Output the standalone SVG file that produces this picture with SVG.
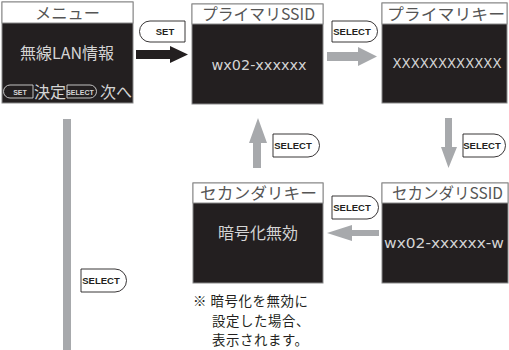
<svg xmlns="http://www.w3.org/2000/svg" width="509" height="350" viewBox="0 0 509 350">
<style>
.frame{fill:#231f20;stroke:#888;stroke-width:1}
.tbar{fill:#fff;stroke:#888;stroke-width:1}
.title{font-family:"Noto Sans CJK JP","DejaVu Sans",sans-serif;font-size:16px;fill:#555;text-anchor:middle}
.body{font-family:"Noto Sans CJK JP","DejaVu Sans Condensed",sans-serif;font-size:16px;fill:#d4d4d4;text-anchor:middle}
.mono{font-family:"DejaVu Sans Condensed","Noto Sans",sans-serif;font-size:14px;fill:#d4d4d4;text-anchor:middle}
.gray{fill:#a7a9ac}
.btn{fill:#fff;stroke:#231f20;stroke-width:0.9}
.btxt{font-family:"Liberation Sans",Arial,sans-serif;font-weight:bold;font-size:9.5px;fill:#231f20;text-anchor:middle}
.note{font-family:"Noto Sans CJK JP",sans-serif;font-size:13.4px;fill:#231f20;letter-spacing:0.6px}
.icon{fill:none;stroke:#d4d4d4;stroke-width:0.9}
.itxt{font-family:"Liberation Sans",Arial,sans-serif;font-weight:bold;font-size:7px;fill:#d4d4d4;text-anchor:middle}
</style>

<g id="menu">
<rect class="frame" x="2" y="2" width="131" height="101"/>
<rect class="tbar" x="2" y="2" width="131" height="21"/>
<text class="title" x="67.5" y="18.5" textLength="65" lengthAdjust="spacingAndGlyphs">メニュー</text>
<text class="body" x="67" y="59" font-size="17">無線LAN情報</text>
<path class="icon" d="M33,85 H10 A6.5,6.5 0 0 0 10,98 H33 Z"/>
<text class="itxt" x="20" y="94.5">SET</text>
<text class="body" x="50" y="98" font-size="15">決定</text>
<path class="icon" d="M67,85 H90 A6.5,6.5 0 0 1 90,98 H67 Z"/>
<text class="itxt" x="80" y="94.5" font-size="6">SELECT</text>
<text class="body" x="116" y="98" font-size="15">次へ</text>
</g>

<g id="primary-ssid">
<rect class="frame" x="192" y="4" width="131" height="100"/>
<rect class="tbar" x="192" y="4" width="131" height="20"/>
<text class="title" x="258.5" y="20" textLength="113" lengthAdjust="spacingAndGlyphs">プライマリSSID</text>
<text class="mono" x="259" y="70" textLength="95" lengthAdjust="spacingAndGlyphs">wx02-xxxxxx</text>
</g>

<g id="primary-key">
<rect class="frame" x="382" y="3" width="125" height="100"/>
<rect class="tbar" x="382" y="3" width="125" height="21"/>
<text class="title" x="446" y="19.5" textLength="118" lengthAdjust="spacingAndGlyphs">プライマリキー</text>
<text class="mono" x="447" y="68" textLength="109" lengthAdjust="spacingAndGlyphs">XXXXXXXXXXXX</text>
</g>

<g id="secondary-ssid">
<rect class="frame" x="382" y="183" width="126" height="100"/>
<rect class="tbar" x="382" y="183" width="126" height="20"/>
<text class="title" x="447.5" y="199" textLength="111" lengthAdjust="spacingAndGlyphs">セカンダリSSID</text>
<text class="mono" x="444" y="248" textLength="120" lengthAdjust="spacingAndGlyphs">wx02-xxxxxx-w</text>
</g>

<g id="secondary-key">
<rect class="frame" x="193" y="183" width="130" height="100"/>
<rect class="tbar" x="193" y="183" width="130" height="20"/>
<text class="title" x="258.5" y="199" textLength="117" lengthAdjust="spacingAndGlyphs">セカンダリキー</text>
<text class="body" x="258" y="239">暗号化無効</text>
</g>

<g id="note">
<text class="note" x="193" y="306">※ 暗号化を無効に</text>
<text class="note" x="212" y="325.5">設定した場合、</text>
<text class="note" x="212" y="345">表示されます。</text>
</g>

<g id="connectors">
<path fill="#231f20" d="M136,50 H170 V46 L188,54.5 L170,63 V59 H136 Z"/>
<path class="gray" d="M327,52 H358 V47 L377,56.5 L358,66 V61 H327 Z"/>
<path class="gray" d="M445,118 H452 V147 H457 L448.5,168 L441,147 H445 Z"/>
<path class="gray" d="M253,168 H261 V143 H267 L258,118 L249,143 H253 Z"/>
<path class="gray" d="M379,230 H352 V225 L327,233 L352,241 V236 H379 Z"/>
<rect class="gray" x="63" y="119" width="8" height="231"/>

<path class="btn" d="M185,21 H150 A10.5,10.5 0 0 0 150,42 H185 Z"/>
<text class="btxt" x="165" y="35">SET</text>
<path class="btn" d="M332,21 H367 A10.5,10.5 0 0 1 367,42 H332 Z"/>
<text class="btxt" x="352" y="35">SELECT</text>
<path class="btn" d="M463,134 H494 A11.5,11.5 0 0 1 494,157 H463 Z"/>
<text class="btxt" x="482" y="149">SELECT</text>
<path class="btn" d="M273,134 H308 A11.5,11.5 0 0 1 308,157 H273 Z"/>
<text class="btxt" x="293" y="149">SELECT</text>
<path class="btn" d="M332,196 H367 A11.5,11.5 0 0 1 367,219 H332 Z"/>
<text class="btxt" x="352" y="211">SELECT</text>
<path class="btn" d="M81,269 H115 A11.5,11.5 0 0 1 115,292 H81 Z"/>
<text class="btxt" x="101" y="284">SELECT</text>
</g>
</svg>
